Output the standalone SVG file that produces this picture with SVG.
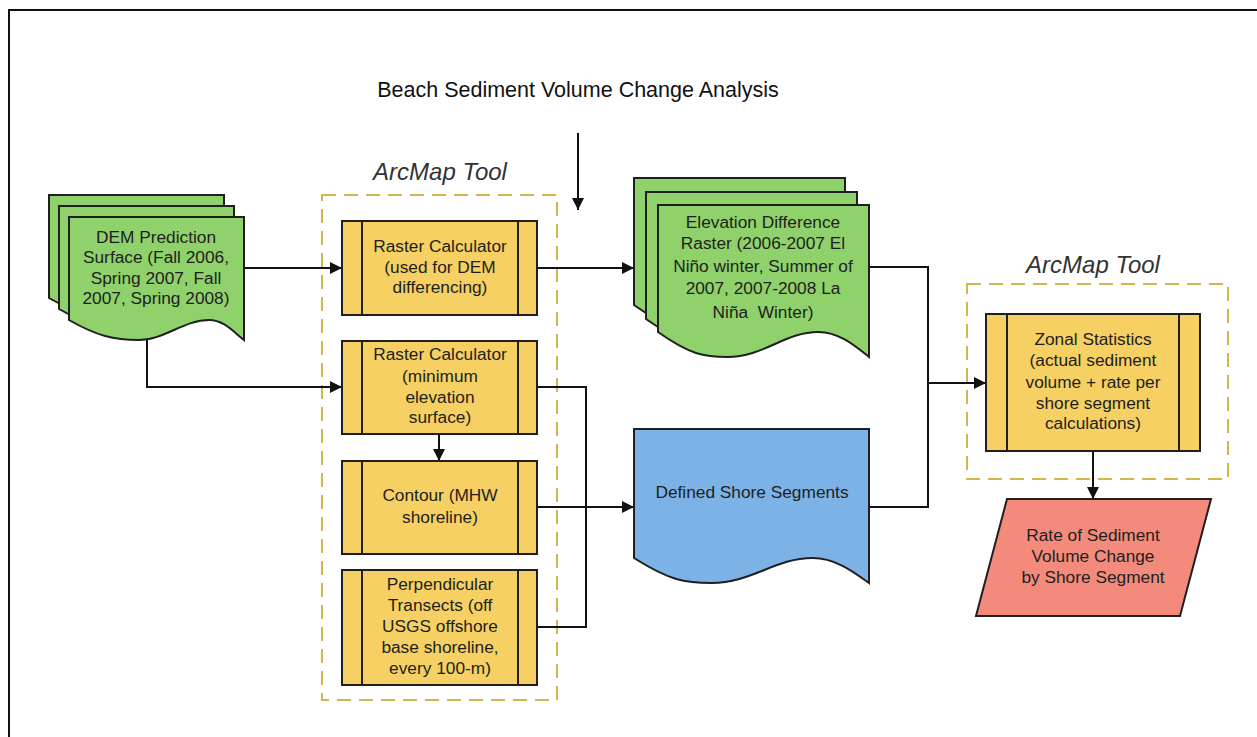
<svg xmlns="http://www.w3.org/2000/svg" width="1257" height="737" viewBox="0 0 1257 737">
  <defs>
    <style>
      .doc-green { fill: #8fd16a; stroke: #1f1f1f; stroke-width: 2; }
      .doc-blue { fill: #7db2e6; stroke: #1f1f1f; stroke-width: 2; }
      .proc { fill: #f6d062; stroke: #1f1f1f; stroke-width: 2; }
      .proc-bar { stroke: #1f1f1f; stroke-width: 2; }
      .io { fill: #f48a7c; stroke: #1f1f1f; stroke-width: 2; }
      .group { fill: none; stroke: #d2b64c; stroke-width: 2; stroke-dasharray: 14 8; }
      .wire { fill: none; stroke: #111; stroke-width: 2; }
      .label { font-family: "Liberation Sans", Arial, sans-serif; font-size: 17.3px; fill: #1e1e1e; text-anchor: middle; }
      .tool { font-family: "Liberation Sans", Arial, sans-serif; font-size: 24px; font-style: italic; fill: #333; text-anchor: middle; }
      .title { font-family: "Liberation Sans", Arial, sans-serif; font-size: 21.5px; fill: #111; text-anchor: middle; }
    </style>
    <marker id="arrow" viewBox="0 0 10 10" refX="10" refY="5" markerWidth="12" markerHeight="12" markerUnits="userSpaceOnUse" orient="auto">
      <path d="M0,0 L10,5 L0,10 Z" fill="#111"/>
    </marker>
    <!-- document sheets with wavy bottom edge, one per size -->
    <path id="docDem" d="M0,0 H175 V123 C164.5,115 155,103 140,103 C115,103 95,123 70,123 C45,123 28,119 0,103 Z"/>
    <path id="docElev" d="M0,0 H211 V152 C198.3,142 181.5,127 160.4,127 C126.6,127 105.5,152 69.6,152 C46.4,152 31.7,149.5 0,127 Z"/>
    <path id="docShore" d="M0,0 H235 V154 C220.9,144 202.1,129 178.6,129 C141,129 117.5,154 77.6,154 C51.7,154 35.3,151.5 0,129 Z"/>
  </defs>

  <rect width="1257" height="737" fill="#ffffff"/>
  <!-- page frame -->
  <path d="M9,737 V10 H1257" fill="none" stroke="#111" stroke-width="2"/>

  <text class="title" x="578" y="97">Beach Sediment Volume Change Analysis</text>

  <!-- tool groupings -->
  <g id="tool-group-1">
    <text class="tool" x="440" y="180">ArcMap Tool</text>
    <rect class="group" x="322" y="195" width="235" height="505"/>
  </g>
  <g id="tool-group-2">
    <text class="tool" x="1093" y="273">ArcMap Tool</text>
    <rect class="group" x="967" y="284" width="261" height="195"/>
  </g>

  <!-- connectors -->
  <g id="connectors">
    <path class="wire" d="M578,133 V210" marker-end="url(#arrow)"/>
    <path class="wire" d="M244,268 H342" marker-end="url(#arrow)"/>
    <path class="wire" d="M147,338 V387 H342" marker-end="url(#arrow)"/>
    <path class="wire" d="M537,268 H634" marker-end="url(#arrow)"/>
    <path class="wire" d="M439,434 V461" marker-end="url(#arrow)"/>
    <path class="wire" d="M537,387 H586 V627 H537"/>
    <path class="wire" d="M537,507 H634" marker-end="url(#arrow)"/>
    <path class="wire" d="M869,267 H928 V507 H869"/>
    <path class="wire" d="M928,383 H986" marker-end="url(#arrow)"/>
    <path class="wire" d="M1093,451 V499" marker-end="url(#arrow)"/>
  </g>

  <g id="dem-surface">
    <use href="#docDem" class="doc-green" x="49" y="195"/>
    <use href="#docDem" class="doc-green" x="59" y="206"/>
    <use href="#docDem" class="doc-green" x="69" y="217"/>
    <text class="label" x="156" y="243">DEM Prediction</text>
    <text class="label" x="156" y="263">Surface (Fall 2006,</text>
    <text class="label" x="156" y="284">Spring 2007, Fall</text>
    <text class="label" x="156" y="304">2007, Spring 2008)</text>
  </g>

  <g id="raster-calc-diff">
    <rect class="proc" x="342" y="221" width="195" height="94"/>
    <path class="proc-bar" d="M362,221 V315 M518,221 V315"/>
    <text class="label" x="440" y="252">Raster Calculator</text>
    <text class="label" x="440" y="273">(used for DEM</text>
    <text class="label" x="440" y="293">differencing)</text>
  </g>

  <g id="raster-calc-min">
    <rect class="proc" x="342" y="341" width="195" height="93"/>
    <path class="proc-bar" d="M362,341 V434 M518,341 V434"/>
    <text class="label" x="440" y="360">Raster Calculator</text>
    <text class="label" x="440" y="382">(minimum</text>
    <text class="label" x="440" y="403">elevation</text>
    <text class="label" x="440" y="423">surface)</text>
  </g>

  <g id="contour">
    <rect class="proc" x="342" y="461" width="195" height="93"/>
    <path class="proc-bar" d="M362,461 V554 M518,461 V554"/>
    <text class="label" x="440" y="501">Contour (MHW</text>
    <text class="label" x="440" y="523">shoreline)</text>
  </g>

  <g id="transects">
    <rect class="proc" x="342" y="570" width="195" height="115"/>
    <path class="proc-bar" d="M362,570 V685 M518,570 V685"/>
    <text class="label" x="440" y="590">Perpendicular</text>
    <text class="label" x="440" y="611">Transects (off</text>
    <text class="label" x="440" y="632">USGS offshore</text>
    <text class="label" x="440" y="653">base shoreline,</text>
    <text class="label" x="440" y="674">every 100-m)</text>
  </g>

  <g id="elevation-difference">
    <use href="#docElev" class="doc-green" x="634" y="178"/>
    <use href="#docElev" class="doc-green" x="646" y="192"/>
    <use href="#docElev" class="doc-green" x="658" y="205"/>
    <text class="label" x="763" y="228">Elevation Difference</text>
    <text class="label" x="763" y="249">Raster (2006-2007 El</text>
    <text class="label" x="763" y="272">Niño winter, Summer of</text>
    <text class="label" x="763" y="294">2007, 2007-2008 La</text>
    <text class="label" x="763" y="318" xml:space="preserve">Niña  Winter)</text>
  </g>

  <g id="shore-segments">
    <use href="#docShore" class="doc-blue" x="634" y="429"/>
    <text class="label" x="752" y="498">Defined Shore Segments</text>
  </g>

  <g id="zonal-statistics">
    <rect class="proc" x="986" y="314" width="214" height="137"/>
    <path class="proc-bar" d="M1007,314 V451 M1179,314 V451"/>
    <text class="label" x="1093" y="345">Zonal Statistics</text>
    <text class="label" x="1093" y="366">(actual sediment</text>
    <text class="label" x="1093" y="388">volume + rate per</text>
    <text class="label" x="1093" y="409">shore segment</text>
    <text class="label" x="1093" y="429">calculations)</text>
  </g>

  <g id="rate-output">
    <path class="io" d="M1007,499 H1211 L1180,616 H976 Z"/>
    <text class="label" x="1093" y="541">Rate of Sediment</text>
    <text class="label" x="1093" y="562">Volume Change</text>
    <text class="label" x="1093" y="583">by Shore Segment</text>
  </g>
</svg>
